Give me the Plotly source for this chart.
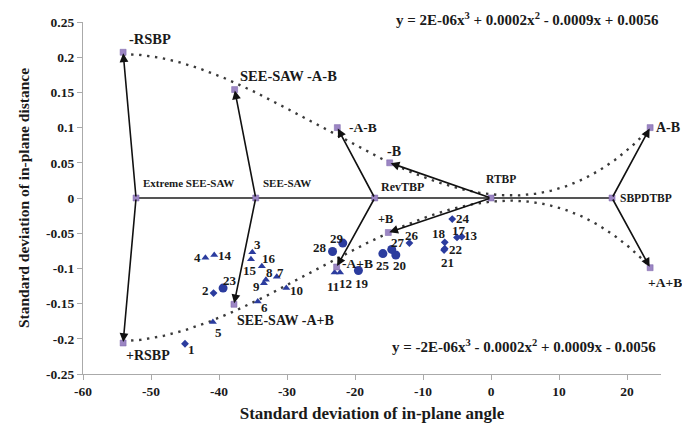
import numpy as np
import plotly.graph_objects as go

# ---- reference conformations (points on the zero line and their derived states)
base_names = ["Extreme SEE-SAW", "SEE-SAW", "RevTBP", "RTBP", "SBPDTBP"]
base_x = [-52.2, -34.6, -17.1, 0.0, 17.8]
base_y = [0.0, 0.0, 0.0, 0.0, 0.0]

upper_names = ["-RSBP", "SEE-SAW -A-B", "-A-B", "-B", "A-B"]
upper_x = [-54.1, -37.7, -22.6, -14.9, 23.4]
upper_y = [0.207, 0.154, 0.100, 0.050, 0.100]

lower_names = ["+RSBP", "SEE-SAW -A+B", "-A+B", "+B", "+A+B"]
lower_x = [-54.1, -37.8, -22.7, -15.1, 23.4]
lower_y = [-0.206, -0.151, -0.098, -0.049, -0.099]

# which base each derived state is reached from
upper_base = [0, 1, 2, 3, 4]
lower_base = [0, 1, 2, 3, 4]

# ---- observed structures
diamond_ids = [1, 2, 13, 17, 18, 21, 22, 24, 26]
diamond_x = [-45.0, -40.8, -4.3, -5.0, -6.8, -6.9, -6.8, -5.7, -12.0]
diamond_y = [-0.207, -0.135, -0.055, -0.056, -0.063, -0.074, -0.072, -0.030, -0.064]

triangle_ids = [3, 4, 5, 6, 7, 8, 9, 10, 11, 12, 14, 15, 16]
triangle_x = [-35.1, -42.0, -40.9, -34.3, -31.5, -33.1, -33.4, -30.1, -23.0, -22.2, -40.7, -33.7, -35.3]
triangle_y = [-0.077, -0.085, -0.176, -0.147, -0.112, -0.116, -0.121, -0.128, -0.106, -0.106, -0.081, -0.097, -0.087]

circle_ids = [19, 20, 23, 25, 27, 28, 29]
circle_x = [-19.5, -14.0, -39.4, -15.9, -14.6, -23.3, -21.8]
circle_y = [-0.103, -0.081, -0.128, -0.079, -0.073, -0.076, -0.064]

x_ticks = [-60, -50, -40, -30, -20, -10, 0, 10, 20]
y_ticks = [0.25, 0.2, 0.15, 0.1, 0.05, 0, -0.05, -0.1, -0.15, -0.2, -0.25]
y_tick_text = ["0.25", "0.2", "0.15", "0.1", "0.05", "0", "-0.05", "-0.1", "-0.15", "-0.2", "-0.25"]

eq_upper = "y = 2E-06x<sup>3</sup> + 0.0002x<sup>2</sup> - 0.0009x + 0.0056"
eq_lower = "y = -2E-06x<sup>3</sup> - 0.0002x<sup>2</sup> + 0.0009x - 0.0056"

SERIF = "Liberation Serif"
BLUE = "#2b3c9e"
KEY = "#9c86c4"
INK = "#1a1a1a"

# pixel offsets (dx right, dy up) of each structure number from its marker
num_shift = {
    1: (6, -6), 2: (-8, 3), 3: (5, 8), 4: (-8, 0), 5: (6, -11), 6: (7, -6),
    7: (4, 4), 8: (4, 7), 9: (-7, -3), 10: (10, -2), 11: (-2, -14), 12: (5, -11),
    13: (9, 1), 14: (11, 0), 15: (-12, -4), 16: (18, 1), 17: (2, 7), 18: (-6, 9),
    19: (4, -13), 20: (4, -10), 21: (3, -12), 22: (11, -1), 23: (7, 8), 24: (11, 1),
    25: (0, -12), 26: (3, 8), 27: (6, 7), 28: (-13, 4), 29: (-6, 5),
}

# pixel offsets, anchor and font size for the conformation labels
key_label = {
    "Extreme SEE-SAW": (5, 15, "left", 11),
    "SEE-SAW": (5, 15, "left", 11),
    "RevTBP": (4, 11, "left", 12),
    "RTBP": (10, 19, "center", 11.5),
    "SBPDTBP": (6, 0, "left", 11.5),
    "-RSBP": (4, 13, "left", 14.5),
    "SEE-SAW -A-B": (3, 14, "left", 14.5),
    "-A-B": (10, 0, "left", 13.5),
    "-B": (4, 11, "center", 14),
    "A-B": (4, 0, "left", 14),
    "+RSBP": (1, -12, "left", 14),
    "SEE-SAW -A+B": (1, -16, "left", 14),
    "-A+B": (3, 3, "left", 13.5),
    "+B": (-3, 14, "center", 12.5),
    "+A+B": (-4, -15, "left", 13.5),
}

fig = go.Figure()

# cubic trendlines through the upper and lower conformations
fit_ux = upper_x[:4] + [base_x[3]] + upper_x[4:]
fit_uy = upper_y[:4] + [base_y[3]] + upper_y[4:]
fit_lx = lower_x[:4] + [base_x[3]] + lower_x[4:]
fit_ly = lower_y[:4] + [base_y[3]] + lower_y[4:]
for fx, fy in ((fit_ux, fit_uy), (fit_lx, fit_ly)):
    coef = np.polyfit(fx, fy, 3)
    xs = np.linspace(min(fx), max(fx), 300)
    fig.add_trace(go.Scatter(x=xs, y=np.polyval(coef, xs), mode="lines",
                             line=dict(color="#3a3a3a", width=2.4, dash="2.4px,5.6px"),
                             hoverinfo="skip", showlegend=False))

# zero line joining the base conformations
fig.add_trace(go.Scatter(x=[base_x[0], base_x[-1]], y=[0, 0], mode="lines",
                         line=dict(color="#555555", width=2), showlegend=False))

annotations = []

# observed structures
for ids, xs, ys, sym, size in ((diamond_ids, diamond_x, diamond_y, "diamond", 6),
                               (triangle_ids, triangle_x, triangle_y, "triangle-up", 7),
                               (circle_ids, circle_x, circle_y, "circle", 9)):
    fig.add_trace(go.Scatter(x=xs, y=ys, mode="markers",
                             marker=dict(symbol=sym, size=size, color=BLUE),
                             showlegend=False))
    for i, xv, yv in zip(ids, xs, ys):
        dx, dy = num_shift[i]
        annotations.append(dict(x=xv, y=yv, xref="x", yref="y", text=f"<b>{i}</b>",
                                showarrow=False, xanchor="center", yanchor="middle",
                                xshift=dx, yshift=dy,
                                font=dict(family=SERIF, size=13, color=INK)))

# conformation markers
all_names = base_names + upper_names + lower_names
all_x = base_x + upper_x + lower_x
all_y = base_y + upper_y + lower_y
fig.add_trace(go.Scatter(x=all_x, y=all_y, mode="markers",
                         marker=dict(symbol="square", size=6, color=KEY,
                                     line=dict(color="#7a62a8", width=0.5)),
                         showlegend=False))

# arrows from each base conformation to its derived states
for names, xs, ys, bases in ((upper_names, upper_x, upper_y, upper_base),
                             (lower_names, lower_x, lower_y, lower_base)):
    for n, xv, yv, b in zip(names, xs, ys, bases):
        annotations.append(dict(x=xv, y=yv, ax=base_x[b], ay=base_y[b],
                                xref="x", yref="y", axref="x", ayref="y",
                                showarrow=True, arrowhead=2, arrowsize=1.1,
                                arrowwidth=1.6, arrowcolor="#111111", text="",
                                standoff=1))

for n, xv, yv in zip(all_names, all_x, all_y):
    dx, dy, anchor, fs = key_label[n]
    annotations.append(dict(x=xv, y=yv, xref="x", yref="y", text=f"<b>{n}</b>",
                            showarrow=False, xanchor=anchor, yanchor="middle",
                            xshift=dx, yshift=dy,
                            font=dict(family=SERIF, size=fs, color=INK)))

annotations.append(dict(x=1, y=1, xref="paper", yref="paper", text=f"<b>{eq_upper}</b>",
                        showarrow=False, xanchor="right", yanchor="middle", yshift=3,
                        font=dict(family=SERIF, size=15, color=INK)))
annotations.append(dict(x=1, y=0.08, xref="paper", yref="paper", text=f"<b>{eq_lower}</b>",
                        showarrow=False, xanchor="right", yanchor="middle", xshift=-3,
                        font=dict(family=SERIF, size=15, color=INK)))

axis_font = dict(family=SERIF, size=13.5, color=INK)
fig.update_layout(
    width=682, height=433,
    margin=dict(l=83, r=21, t=22, b=59),
    plot_bgcolor="white", paper_bgcolor="white",
    annotations=annotations,
    xaxis=dict(range=[-60, 25], tickvals=x_ticks,
               ticktext=[f"<b>{v}</b>" for v in x_ticks],
               showgrid=False, zeroline=False, showline=True, linecolor="#aaaaaa",
               linewidth=1.2, ticks="outside", ticklen=5, tickcolor="#aaaaaa",
               tickfont=axis_font,
               title=dict(text="<b>Standard deviation of in-plane angle</b>",
                          font=dict(family=SERIF, size=17, color=INK), standoff=8)),
    yaxis=dict(range=[-0.25, 0.25], tickvals=y_ticks,
               ticktext=[f"<b>{t}</b>" for t in y_tick_text],
               showgrid=False, zeroline=False, showline=True, linecolor="#aaaaaa",
               linewidth=1.2, ticks="outside", ticklen=5, tickcolor="#aaaaaa",
               tickfont=axis_font,
               title=dict(text="<b>Standard deviation of in-plane distance</b>",
                          font=dict(family=SERIF, size=15.5, color=INK), standoff=12)),
)

fig.write_html("out.html")
